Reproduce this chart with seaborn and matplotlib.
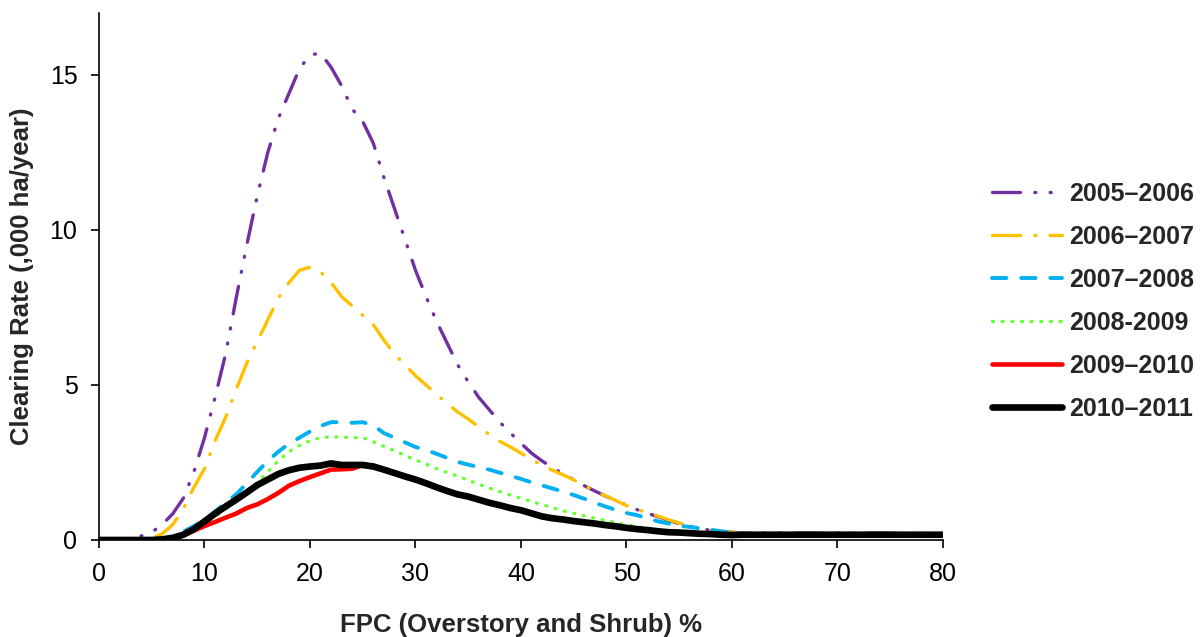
import numpy as np
import pandas as pd
import matplotlib
matplotlib.use("Agg")
import matplotlib.pyplot as plt
import seaborn as sns

# FPC (%) sampled every 1 unit from 0 to 80
fpc = list(range(0, 81))

tail = [0.2] * 20  # 61..80

rate_2005 = [0, 0, 0, 0.05, 0.13, 0.25, 0.5, 0.85, 1.35, 2.2,
             3.3, 4.6, 6.0, 7.8, 9.5, 11.1, 12.5, 13.6, 14.4, 15.2,
             15.65, 15.7, 15.25, 14.65, 13.9, 13.5, 12.8, 11.7, 10.7, 9.7,
             8.7, 7.85, 7.05, 6.35, 5.65, 5.1, 4.6, 4.2, 3.8, 3.45,
             3.12, 2.8, 2.55, 2.33, 2.13, 1.95, 1.75, 1.58, 1.42, 1.27,
             1.12, 0.98, 0.86, 0.75, 0.63, 0.53, 0.44, 0.37, 0.31, 0.27,
             0.25] + [0.22] * 15 + [0.2] * 5
rate_2006 = [0, 0, 0, 0, 0.02, 0.05, 0.2, 0.5, 1.0, 1.7,
             2.3, 3.2, 3.95, 4.85, 5.7, 6.4, 7.1, 7.8, 8.3, 8.7,
             8.8, 8.65, 8.3, 7.85, 7.55, 7.25, 6.95, 6.45, 6.0, 5.65,
             5.3, 5.0, 4.7, 4.4, 4.13, 3.9, 3.65, 3.4, 3.18, 3.0,
             2.8, 2.6, 2.4, 2.25, 2.1, 1.94, 1.75, 1.58, 1.43, 1.27,
             1.11, 0.98, 0.88, 0.77, 0.65, 0.55, 0.45, 0.38, 0.32, 0.28,
             0.25] + tail
rate_2007 = [0, 0, 0, 0, 0, 0, 0.03, 0.12, 0.27, 0.45,
             0.65, 0.92, 1.2, 1.47, 1.82, 2.2, 2.55, 2.85, 3.1, 3.3,
             3.5, 3.68, 3.8, 3.8, 3.78, 3.8, 3.7, 3.45, 3.3, 3.15,
             3.0, 2.9, 2.78, 2.65, 2.52, 2.43, 2.35, 2.27, 2.17, 2.07,
             1.97, 1.86, 1.76, 1.66, 1.56, 1.45, 1.33, 1.2, 1.08, 0.97,
             0.87, 0.8, 0.7, 0.6, 0.53, 0.46, 0.42, 0.37, 0.33, 0.28,
             0.24] + tail
rate_2008 = [0, 0, 0, 0, 0, 0, 0.02, 0.05, 0.15, 0.3,
             0.5, 0.75, 1.0, 1.25, 1.5, 1.85, 2.2, 2.55, 2.85, 3.05,
             3.2, 3.3, 3.33, 3.32, 3.3, 3.3, 3.17, 3.02, 2.88, 2.73,
             2.58, 2.45, 2.3, 2.18, 2.06, 1.93, 1.8, 1.67, 1.56, 1.45,
             1.35, 1.24, 1.14, 1.04, 0.94, 0.86, 0.78, 0.7, 0.63, 0.56,
             0.49, 0.43, 0.37, 0.31, 0.27, 0.23, 0.2, 0.18, 0.16, 0.15,
             0.15] + [0.12] * 20
rate_2009 = [0, 0, 0, 0, 0, 0, 0.01, 0.05, 0.15, 0.3,
             0.45, 0.58, 0.72, 0.85, 1.03, 1.15, 1.32, 1.52, 1.75, 1.9,
             2.03, 2.15, 2.27, 2.28, 2.3, 2.42, 2.4, 2.27, 2.16, 2.05,
             1.95, 1.83, 1.7, 1.58, 1.47, 1.4, 1.3, 1.2, 1.12, 1.03,
             0.96, 0.86, 0.76, 0.7, 0.66, 0.61, 0.57, 0.53, 0.48, 0.44,
             0.39, 0.35, 0.32, 0.28, 0.25, 0.24, 0.22, 0.2, 0.19, 0.17,
             0.16] + [0.17] * 20
rate_2010 = [0, 0, 0, 0, 0, 0, 0.02, 0.07, 0.17, 0.35,
             0.6, 0.85, 1.08, 1.3, 1.53, 1.77, 1.95, 2.13, 2.25, 2.33,
             2.37, 2.4, 2.47, 2.42, 2.42, 2.42, 2.37, 2.27, 2.16, 2.05,
             1.95, 1.83, 1.7, 1.58, 1.47, 1.4, 1.3, 1.2, 1.12, 1.03,
             0.96, 0.86, 0.76, 0.7, 0.66, 0.61, 0.57, 0.53, 0.48, 0.44,
             0.39, 0.35, 0.32, 0.28, 0.25, 0.24, 0.22, 0.2, 0.19, 0.17,
             0.16] + [0.17] * 20

periods = ["2005\u20132006", "2006\u20132007", "2007\u20132008",
           "2008-2009", "2009\u20132010", "2010\u20132011"]
series = [rate_2005, rate_2006, rate_2007, rate_2008, rate_2009, rate_2010]
colors = ["#7030A0", "#FFC000", "#00B0F0", "#66FF33", "#FF0000", "#000000"]
widths = [2.4, 2.4, 2.8, 2.4, 3.3, 4.8]
styles = [(0, (8.4, 4.3, 0.3, 4.3, 0.3, 4.3)),
          (0, (8.4, 4.3, 0.3, 4.3)),
          (0, (3.7, 3.8)),
          (0, (0.3, 2.6)),
          "-",
          "-"]

sns.set_style("white")
plt.rcParams["font.family"] = ["Liberation Sans", "DejaVu Sans"]

fig = plt.figure(figsize=(12, 6.37), dpi=100)
ax = fig.add_axes([0.0825, 0.1523, 0.7033, 0.8273])

for name, vals, c, w, ls in zip(periods, series, colors, widths, styles):
    df = pd.DataFrame({"FPC": fpc, "Rate": vals})
    sns.lineplot(data=df, x="FPC", y="Rate", ax=ax, color=c, linewidth=w,
                 linestyle=ls, label=name, dash_capstyle="round",
                 solid_capstyle="round")

ax.set_xlim(0, 80)
ax.set_ylim(0, 17)
ax.set_xticks(range(0, 81, 10))
ax.set_yticks([0, 5, 10, 15])
ax.tick_params(direction="out", length=5.5, width=1.2, labelsize=18,
               bottom=True, left=True, pad=10, colors="black")
for s in ["top", "right"]:
    ax.spines[s].set_visible(False)
for s in ["left", "bottom"]:
    ax.spines[s].set_color("black")
    ax.spines[s].set_linewidth(1.2)

ax.set_xlabel("FPC (Overstory and Shrub) %", fontsize=18.5, fontweight="bold",
              labelpad=20)
ax.set_ylabel("Clearing Rate (,000 ha/year)", fontsize=18.5, fontweight="bold",
              labelpad=11)

leg = ax.legend(loc="center left", bbox_to_anchor=(1.046, 0.453),
                borderaxespad=0, frameon=False, fontsize=18,
                handlelength=2.8, handletextpad=0.28, labelspacing=0.76)
for t in leg.get_texts():
    t.set_fontweight("bold")

fig.savefig("out.png", dpi=100)
